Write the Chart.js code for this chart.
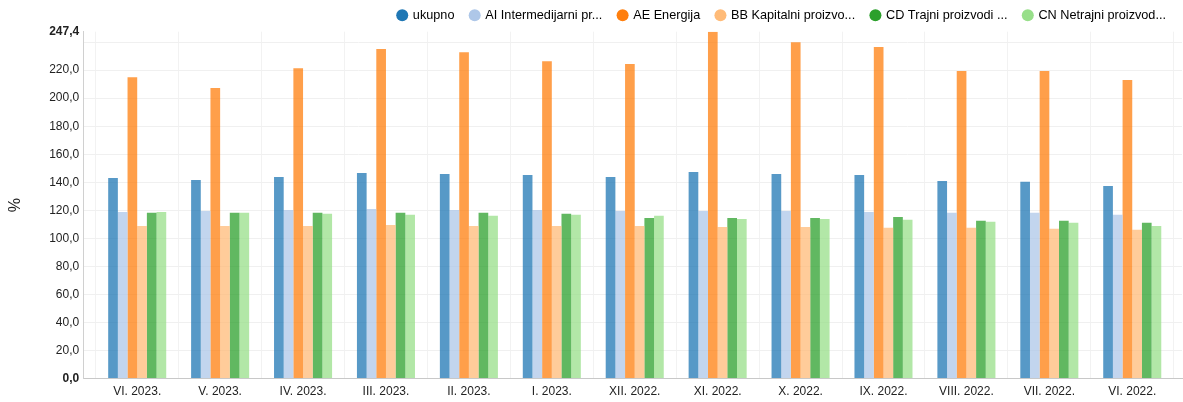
<!DOCTYPE html>
<html>
<head>
<meta charset="utf-8">
<script src="https://cdn.jsdelivr.net/npm/chart.js@4/dist/chart.umd.min.js"></script>
<style>
  html, body { margin: 0; padding: 0; background: #fff; }
  #wrap { width: 1183px; height: 402px; }
</style>
</head>
<body>
<div id="wrap"><canvas id="chart"></canvas></div>
<script>
const months = [
  "VI. 2023.", "V. 2023.", "IV. 2023.", "III. 2023.", "II. 2023.", "I. 2023.", "XII. 2022.",
  "XI. 2022.", "X. 2022.", "IX. 2022.", "VIII. 2022.", "VII. 2022.", "VI. 2022."
];

const ukupno = [143.1, 141.7, 143.8, 146.7, 146.0, 145.2, 143.8, 147.4, 146.0, 145.2, 141.0, 140.3, 137.4];
const intermedijarni = [118.9, 119.6, 120.3, 121.0, 120.3, 120.3, 119.6, 119.6, 119.6, 118.9, 118.2, 118.2, 116.8];
const energija = [215.0, 207.2, 221.4, 235.0, 232.8, 226.4, 224.3, 247.4, 239.9, 236.4, 219.3, 219.3, 212.9];
const kapitalni = [108.9, 108.9, 108.9, 109.6, 108.9, 108.9, 108.9, 108.2, 108.2, 107.5, 107.5, 106.8, 106.1];
const trajni = [118.2, 118.2, 118.2, 118.2, 118.2, 117.5, 114.6, 114.6, 114.6, 115.3, 112.5, 112.5, 111.1];
const netrajni = [118.9, 118.2, 117.5, 116.8, 116.1, 116.8, 116.1, 113.9, 113.9, 113.2, 111.8, 111.1, 108.9];

const seriesNames = [
  "ukupno", "AI Intermedijarni pr...", "AE Energija",
  "BB Kapitalni proizvo...", "CD Trajni proizvodi ...", "CN Netrajni proizvod..."
];
const seriesColors = ["#1f77b4", "#aec7e8", "#ff7f0e", "#ffbb78", "#2ca02c", "#98df8a"];
const yTicks = [0, 20, 40, 60, 80, 100, 120, 140, 160, 180, 200, 220, 240, 247.4];
const yMax = 247.4;

const allSeries = [ukupno, intermedijarni, energija, kapitalni, trajni, netrajni];
const FONT = "'Liberation Sans', Arial, sans-serif";

function fade(hex, a) {
  const n = parseInt(hex.slice(1), 16);
  return `rgba(${n >> 16},${(n >> 8) & 255},${n & 255},${a})`;
}

const fmt = v => v.toFixed(1).replace(".", ",");

new Chart(document.getElementById("chart"), {
  type: "bar",
  data: {
    datasets: allSeries.map((vals, s) => ({
      label: seriesNames[s],
      data: vals.map((v, i) => ({ x: i, y: v })),
      backgroundColor: fade(seriesColors[s], 0.75),
      borderWidth: 0,
      categoryPercentage: 0.7,
      barPercentage: 1.0
    }))
  },
  options: {
    responsive: true,
    maintainAspectRatio: false,
    animation: false,
    layout: { padding: { left: 0, right: 1, top: -7, bottom: -3 } },
    plugins: {
      tooltip: { enabled: false },
      legend: {
        position: "top",
        align: "end",
        labels: {
          usePointStyle: true,
          pointStyle: "circle",
          boxHeight: 8.5,
          boxWidth: 8.5,
          padding: 16,
          color: "#222",
          font: { family: FONT, size: 12.7 },
          generateLabels: chart => seriesNames.map((name, s) => ({
            text: name,
            fillStyle: seriesColors[s],
            strokeStyle: seriesColors[s],
            lineWidth: 0,
            pointStyle: "circle",
            datasetIndex: s,
            hidden: false
          }))
        }
      }
    },
    scales: {
      x: {
        type: "linear",
        min: -0.651,
        max: 12.6,
        offset: false,
        border: { color: "#c8c8c8", width: 1 },
        grid: { color: "#f2f2f2", drawTicks: false },
        ticks: {
          stepSize: 1,
          includeBounds: false,
          autoSkip: false,
          maxRotation: 0,
          padding: 6,
          color: "#222",
          font: { family: FONT, size: 12 },
          callback: v => months[v] || ""
        }
      },
      y: {
        min: 0,
        max: yMax,
        border: { color: "#d0d0d0", width: 1 },
        grid: {
          color: ctx => ctx.tick && ctx.tick.value === yMax ? "rgba(0,0,0,0)" : "#f0f0f0",
          drawTicks: false
        },
        afterBuildTicks: scale => {
          scale.ticks = yTicks.map(v => ({ value: v }));
        },
        ticks: {
          padding: 4,
          color: "#222",
          font: ctx => ({
            family: FONT,
            size: 12,
            weight: ctx.tick && (ctx.tick.value === 0 || ctx.tick.value === yMax) ? "bold" : "normal"
          }),
          callback: v => v === 240 ? "" : fmt(v)
        },
        title: {
          display: true,
          text: "%",
          color: "#222",
          padding: { top: 6, bottom: 20 },
          font: { family: FONT, size: 16 }
        }
      }
    }
  }
});
</script>
</body>
</html>
